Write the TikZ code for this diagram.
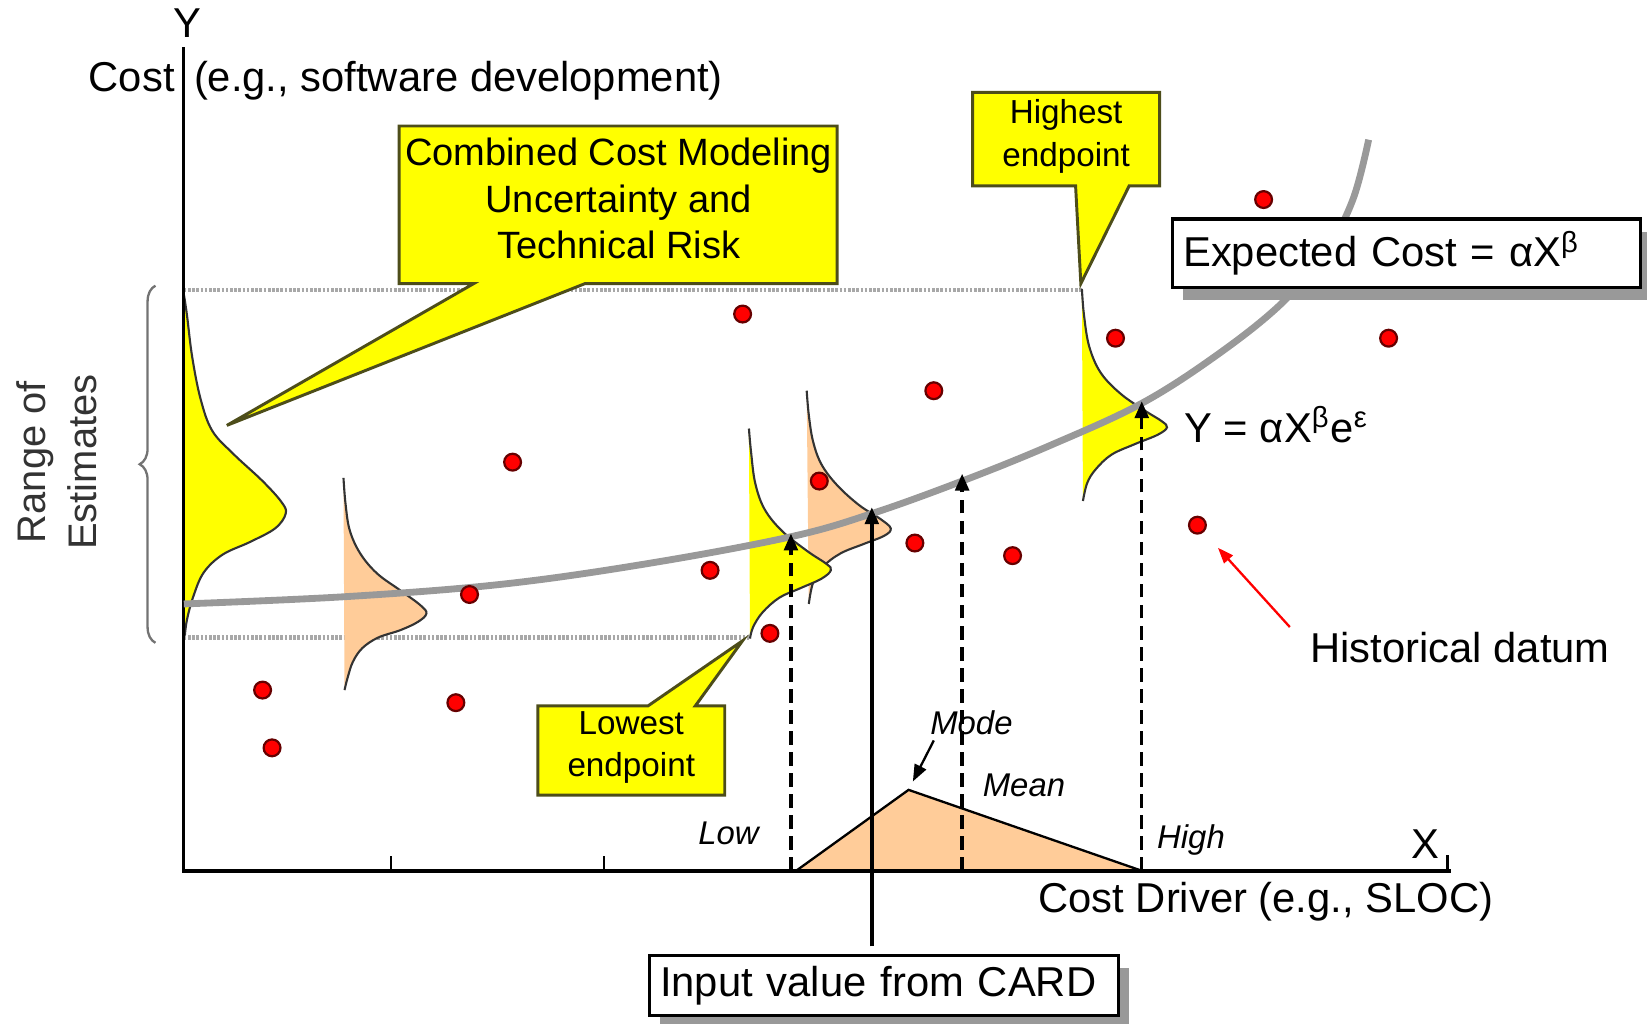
\documentclass[tikz,border=0pt]{standalone}
\usepackage{fontspec}
\setmainfont{Liberation Sans}
\usetikzlibrary{arrows.meta,decorations.pathreplacing,shadows,calc}
\definecolor{cyel}{HTML}{FFFF00}
\definecolor{cpeach}{HTML}{FFCC99}
\definecolor{ccurve}{HTML}{999999}
\definecolor{cdotl}{HTML}{A8A8A8}
\definecolor{cborder}{HTML}{4D4D1A}
\begin{document}
\begin{tikzpicture}[x=0.01cm,y=-0.01cm,
  lbl/.style={font=\fontsize{11.3}{13.5}\selectfont, inner sep=0pt},
  calltext/.style={inner sep=0pt, align=center},
  ital/.style={font=\fontsize{8.9}{10}\selectfont\itshape, inner sep=0pt},
  datum/.style={circle, fill=red, draw=black!60!red, line width=0.6pt, minimum size=0.16cm, inner sep=0pt},
  callout/.style={fill=cyel, draw=cborder, line width=0.028cm, line join=miter},
  distline/.style={draw=black!80, line width=0.02cm},
  guide/.style={draw=cdotl, line width=0.045cm, dash pattern=on 0.025cm off 0.015cm},
  darrow/.style={line width=0.032cm, dash pattern=on 0.13cm off 0.07cm, -{Triangle[length=0.16cm,width=0.13cm]}},
  sarrow/.style={line width=0.032cm, -{Triangle[length=0.16cm,width=0.13cm]}},
  shadowbox/.style={draw=black, fill=white, line width=0.03cm, inner xsep=0.1cm, inner ysep=0pt, align=left,
     drop shadow={shadow xshift=0.1cm, shadow yshift=-0.12cm, fill=gray!80, opacity=1}}
]
\useasboundingbox (0,0) rectangle (1568,974);

% guide lines
\draw[guide] (175,276) -- (1030,276);
\draw[guide] (175,607) -- (713,607);

% distributions
\fill[cyel] plot[smooth, tension=0.6] coordinates {(175,280) (178,300) (183,340) (191,380) (202,410) (222,432) (250,458) (268,478) (272,489) (262,503) (238,516) (212,528) (194,545) (184,568) (178,590) (176,605)} -- cycle;
\draw[distline] plot[smooth, tension=0.6] coordinates {(175,280) (178,300) (183,340) (191,380) (202,410) (222,432) (250,458) (268,478) (272,489) (262,503) (238,516) (212,528) (194,545) (184,568) (178,590) (176,605)};

\fill[cpeach] plot[smooth, tension=0.6] coordinates {(327,455) (329,480) (333,505) (343,527) (359,546) (381,562) (400,576) (406,584) (398,592) (381,600) (360,607) (345,617) (336,630) (331,645) (328,657)} -- cycle;
\draw[distline] plot[smooth, tension=0.6] coordinates {(327,455) (329,480) (333,505) (343,527) (359,546) (381,562) (400,576) (406,584) (398,592) (381,600) (360,607) (345,617) (336,630) (331,645) (328,657)};

\fill[cpeach] plot[smooth, tension=0.6] coordinates {(768,372) (770,395) (774,420) (782,442) (797,462) (818,481) (838,494) (848,503) (842,510) (822,518) (800,527) (783,540) (774,555) (770,575)} -- cycle;
\draw[distline] plot[smooth, tension=0.6] coordinates {(768,372) (770,395) (774,420) (782,442) (797,462) (818,481) (838,494) (848,503) (842,510) (822,518) (800,527) (783,540) (774,555) (770,575)};

\fill[cyel] plot[smooth, tension=0.6] coordinates {(713,408) (715,430) (719,460) (728,485) (745,506) (769,525) (787,537) (791,543) (782,551) (762,560) (742,569) (726,583) (717,597) (714,608)} -- cycle;
\draw[distline] plot[smooth, tension=0.6] coordinates {(713,408) (715,430) (719,460) (728,485) (745,506) (769,525) (787,537) (791,543) (782,551) (762,560) (742,569) (726,583) (717,597) (714,608)};

\fill[cyel] plot[smooth, tension=0.6] coordinates {(1030,275) (1032,300) (1037,330) (1048,355) (1067,375) (1090,391) (1106,401) (1111,407) (1102,414) (1080,423) (1058,433) (1043,447) (1035,460) (1031,477)} -- cycle;
\draw[distline] plot[smooth, tension=0.6] coordinates {(1030,275) (1032,300) (1037,330) (1048,355) (1067,375) (1090,391) (1106,401) (1111,407) (1102,414) (1080,423) (1058,433) (1043,447) (1035,460) (1031,477)};

% triangle distribution of the input
\filldraw[fill=cpeach, draw=black, line width=0.022cm] (758,829) -- (865,752) coordinate (apex) -- (1087,829) -- cycle;

% axes
\draw[line width=0.042cm] (175,829) -- (1381,829);
\draw[line width=0.032cm] (175,45) -- (175,831);
\draw[line width=0.022cm] (372,829) -- (372,815);
\draw[line width=0.022cm] (575,829) -- (575,815);
\draw[line width=0.022cm] (1378,829) -- (1378,814);

% expected cost curve
\draw[ccurve, line width=0.065cm] plot[smooth, tension=0.6] coordinates {(175,575) (330,568) (480,556) (620,536) (753,511) (830,489) (916,458) (1000,424) (1087,384) (1160,337) (1220,289) (1262,240) (1288,190) (1303,133)};

% historical data
\foreach \n/\p in {1/{(1203,190)},2/{(707,299)},3/{(1062,322)},4/{(1322,322)},5/{(889,372)},6/{(488,440)},7/{(780,458)},8/{(1140,500)},9/{(871,517)},10/{(964,529)},11/{(676,543)},12/{(447,566)},13/{(733,603)},14/{(250,657)},15/{(434,669)},16/{(259,712)}}
  \node[datum] (d\n) at \p {};

% arrows from cost driver to curve
\coordinate (lowx) at (753,829);  \coordinate (lowc) at (753,508);
\coordinate (meanx) at (916,829); \coordinate (meanc) at (916,451);
\coordinate (highx) at (1087,829); \coordinate (highc) at (1087,382);
\coordinate (cardx) at (830,901); \coordinate (cardc) at (830,483);
\draw[darrow] (lowx) -- (lowc);
\draw[darrow] (meanx) -- (meanc);
\draw[darrow] (highx) -- (highc);
\draw[sarrow] (cardx) -- (cardc);

% brace and range label
\draw[decorate, decoration={brace, amplitude=0.15cm}, black!55, line width=0.022cm] (148,612) -- (148,272);
\node[font=\fontsize{10.8}{13.7}\selectfont, text=black!80, rotate=90, align=center, inner sep=0pt] (range) at (54,440) {Range of\\Estimates};

% callouts
\path[callout] (380,120) -- (797,120) -- (797,270) -- (557,270) -- (216,405) -- (451,270) -- (380,270) -- cycle;
\node[calltext, font=\fontsize{10.3}{12.5}\selectfont] (combined) at (589,189) {Combined Cost Modeling\\Uncertainty and\\Technical Risk};

\path[callout] (926,88) -- (1104,88) -- (1104,177) -- (1075,177) -- (1029,270) -- (1024,177) -- (926,177) -- cycle;
\node[calltext, font=\fontsize{9}{11.7}\selectfont] (highest) at (1015,130) {Highest\\endpoint};

\path[callout] (512,672) -- (617,672) -- (707,610) -- (662,672) -- (690,672) -- (690,757) -- (512,757) -- cycle;
\node[calltext, font=\fontsize{9}{11.4}\selectfont] (lowest) at (601,712) {Lowest\\endpoint};

% labelled boxes
\node[shadowbox, lbl, inner xsep=0.1cm, text width=4.25cm, minimum height=0.65cm, anchor=north west] (expected) at (1115,207) {Expected Cost = αX\textsuperscript{β}};
\node[shadowbox, lbl, inner xsep=0.1cm, text width=4.26cm, minimum height=0.57cm, anchor=north west] (card) at (617,908) {Input value from CARD};

% text labels
\node[lbl, anchor=base] (ylbl) at (178,36) {Y};
\node[lbl, anchor=base east] (cost) at (167,87) {Cost};
\node[lbl, anchor=base west] (costeg) at (184,87) {(e.g., software development)};
\node[lbl, anchor=base] (xlbl) at (1357,817) {X};
\node[lbl, anchor=base west] (driver) at (988,869) {Cost Driver (e.g., SLOC)};
\node[lbl, anchor=base west] (hist) at (1247,631) {Historical datum};
\node[lbl, anchor=base west] (yeq) at (1127,421) {Y = αX\textsuperscript{β}e\textsuperscript{ε}};
\node[ital, anchor=base east] (low) at (723,804) {Low};
\node[ital, anchor=base west] (high) at (1101,808) {High};
\node[ital, anchor=base west] (mode) at (885,699) {Mode};
\node[ital, anchor=base west] (mean) at (935,758) {Mean};

% pointer arrows
\coordinate (modetail) at (889,705);
\draw[line width=0.022cm, -{Triangle[length=0.16cm,width=0.12cm]}, shorten >=0.09cm] (modetail) -- (apex);
\coordinate (histtail) at (1228,597);
\draw[red, line width=0.022cm, -{Triangle[length=0.15cm,width=0.11cm]}, shorten >=0.2cm] (histtail) -- (d8);
\end{tikzpicture}
\end{document}
